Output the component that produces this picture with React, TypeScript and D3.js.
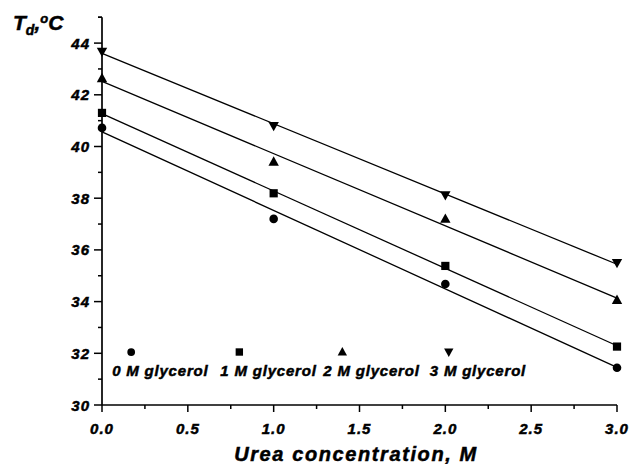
import React from "react";
import * as d3 from "d3";

const urea = [0, 1, 2, 3];
const series0M = [40.72, 37.2, 34.68, 31.44];
const series1M = [41.3, 38.19, 35.38, 32.26];
const series2M = [42.64, 39.41, 37.2, 34.06];
const series3M = [43.67, 40.8, 38.12, 35.5];
const seriesNames = ["0 M glycerol", "1 M glycerol", "2 M glycerol", "3 M glycerol"];
const seriesSymbols = ["circle", "square", "up", "down"];
const legendX = [0.17, 0.8, 1.4, 2.02];
const legendY = 32.05;
const xTicks = [0, 0.5, 1, 1.5, 2, 2.5, 3];
const yTicks = [30, 32, 34, 36, 38, 40, 42, 44];

const W = 632;
const H = 464;
const FONT = "'Liberation Sans', Arial, sans-serif";

const x = d3.scaleLinear().domain([0, 3]).range([102, 617]);
const y = d3.scaleLinear().domain([30, 45]).range([405, 17.25]);

function fit(xs: number[], ys: number[]) {
  const mx = d3.mean(xs)!;
  const my = d3.mean(ys)!;
  let num = 0, den = 0;
  xs.forEach((v, i) => {
    num += (v - mx) * (ys[i] - my);
    den += (v - mx) * (v - mx);
  });
  const b = num / den;
  return { a: my - b * mx, b };
}

function Marker({ kind, cx, cy, s = 1 }: { kind: string; cx: number; cy: number; s?: number }) {
  if (kind === "circle") return <circle cx={cx} cy={cy} r={4.3 * s} fill="#000" />;
  if (kind === "square") {
    const h = 4.1 * s;
    return <rect x={cx - h} y={cy - h} width={2 * h} height={2 * h} fill="#000" />;
  }
  const t = 5.2 * s;
  if (kind === "up")
    return <path d={`M${cx},${cy - t * 1.05} L${cx + t},${cy + t * 0.75} L${cx - t},${cy + t * 0.75}Z`} fill="#000" />;
  return <path d={`M${cx},${cy + t * 1.05} L${cx + t},${cy - t * 0.75} L${cx - t},${cy - t * 0.75}Z`} fill="#000" />;
}

const txt = {
  fontFamily: FONT,
  fontWeight: "bold" as const,
  fontStyle: "italic" as const,
  stroke: "#000",
  strokeWidth: 0.5,
  fill: "#000",
};

export default function App() {
  const all = [series0M, series1M, series2M, series3M];
  const minorY = d3.range(31, 46, 2);
  const minorX = d3.range(0.25, 3, 0.5);
  const lineGen = d3.line<[number, number]>().x((d) => x(d[0])).y((d) => y(d[1]));
  return (
    <svg width={W} height={H} style={{ position: "absolute", left: 0, top: 0, background: "#fff" }}>
      {all.map((s, i) => {
        const f = fit(urea, s);
        const pts: [number, number][] = [0, 3].map((u) => [u, f.a + f.b * u]);
        return <path key={i} d={lineGen(pts)!} stroke="#000" strokeWidth={1.3} fill="none" />;
      })}
      {all.map((s, i) =>
        s.map((v, j) => <Marker key={`${i}-${j}`} kind={seriesSymbols[i]} cx={x(urea[j])} cy={y(v)} />)
      )}
      <line x1={x(0)} x2={x(3)} y1={y(30)} y2={y(30)} stroke="#000" strokeWidth={1.7} />
      <line x1={x(0)} x2={x(0)} y1={y(30)} y2={y(45)} stroke="#000" strokeWidth={1.7} />
      <line x1={x(0) - 4} x2={x(0)} y1={y(45)} y2={y(45)} stroke="#000" strokeWidth={1.5} />
      {yTicks.map((t) => (
        <g key={t}>
          <line x1={x(0) - 8} x2={x(0)} y1={y(t)} y2={y(t)} stroke="#000" strokeWidth={1.5} />
          <text x={x(0) - 12} y={y(t) + 5.5} textAnchor="end" fontSize={15} letterSpacing={1} {...txt}>
            {t}
          </text>
        </g>
      ))}
      {minorY.map((t) => (
        <line key={t} x1={x(0) - 4} x2={x(0)} y1={y(t)} y2={y(t)} stroke="#000" strokeWidth={1.5} />
      ))}
      {xTicks.map((t) => (
        <g key={t}>
          <line x1={x(t)} x2={x(t)} y1={y(30)} y2={y(30) + 7} stroke="#000" strokeWidth={1.5} />
          <text x={x(t)} y={y(30) + 29} textAnchor="middle" fontSize={15} letterSpacing={1} {...txt}>
            {t.toFixed(1)}
          </text>
        </g>
      ))}
      {minorX.map((t) => (
        <line key={t} x1={x(t)} x2={x(t)} y1={y(30)} y2={y(30) + 4} stroke="#000" strokeWidth={1.5} />
      ))}
      <text x={356} y={461} textAnchor="middle" fontSize={20} letterSpacing={1.6} {...txt}>
        Urea concentration, M
      </text>
      <text x={13} y={30} fontSize={21} {...txt}>
        T
        <tspan fontSize={14} dy={5}>d</tspan>
        <tspan dy={-5}>,</tspan>
        <tspan fontSize={13} dy={-7}>o</tspan>
        <tspan dy={7}>C</tspan>
      </text>
      {seriesNames.map((n, i) => (
        <g key={n}>
          <Marker kind={seriesSymbols[i]} cx={x(legendX[i])} cy={y(legendY)} s={0.9} />
          <text x={x(legendX[i]) - 19} y={376} fontSize={15} letterSpacing={0.8} {...txt}>
            {n}
          </text>
        </g>
      ))}
    </svg>
  );
}
